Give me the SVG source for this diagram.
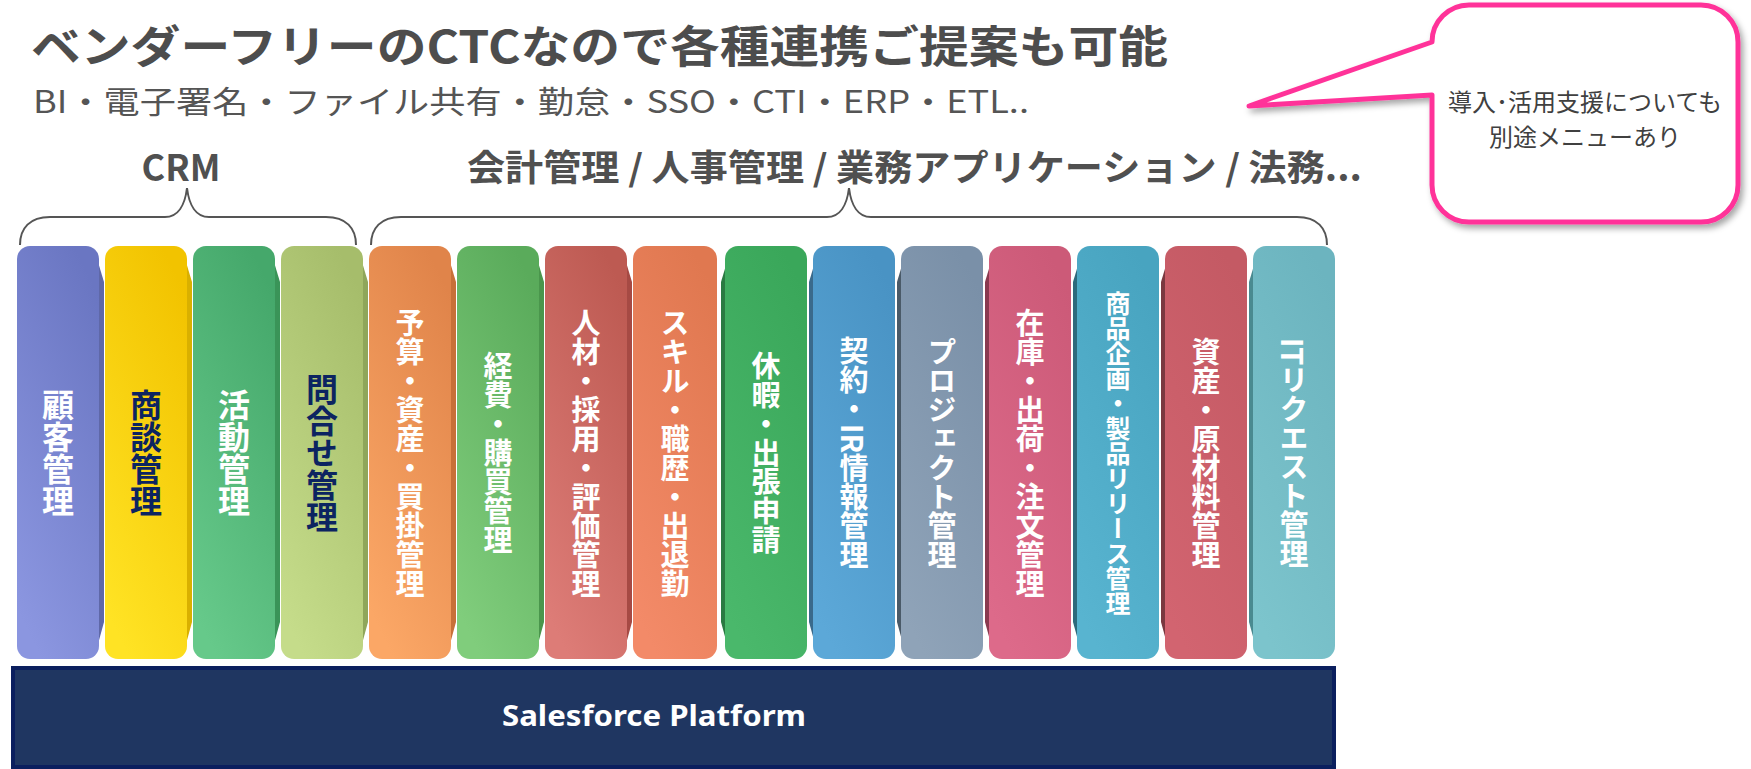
<svg xmlns="http://www.w3.org/2000/svg" width="1751" height="769" viewBox="0 0 1751 769">
<style>
.ttl{font-family:"Noto Sans CJK JP","Noto Sans",sans-serif;font-weight:700;fill:#4d4d4d}
.sub{font-family:"Noto Sans CJK JP","Noto Sans",sans-serif;font-weight:400;fill:#555555}
.hd{font-family:"Noto Sans CJK JP","Noto Sans",sans-serif;font-weight:700;fill:#505050}
.v{font-family:"Noto Sans CJK JP",sans-serif;font-weight:700;fill:#ffffff;writing-mode:vertical-rl;text-anchor:middle}
.dk{fill:#0c2461}
.brace{fill:none;stroke:#555555;stroke-width:2}
.call{font-family:"Noto Sans CJK JP",sans-serif;font-weight:400;fill:#404040;font-size:24px;text-anchor:middle}
</style>
<defs>
<filter id="sh" x="-10%" y="-10%" width="130%" height="130%">
<feDropShadow dx="3" dy="4" stdDeviation="3" flood-color="#000" flood-opacity="0.35"/>
</filter>
<linearGradient id="g1" x1="0.7" y1="0" x2="0.3" y2="1"><stop offset="0" stop-color="#6a76c2"/><stop offset="1" stop-color="#8b96e0"/></linearGradient>
<linearGradient id="g2" x1="0.7" y1="0" x2="0.3" y2="1"><stop offset="0" stop-color="#f2c300"/><stop offset="1" stop-color="#ffe324"/></linearGradient>
<linearGradient id="g3" x1="0.7" y1="0" x2="0.3" y2="1"><stop offset="0" stop-color="#45a86b"/><stop offset="1" stop-color="#66c98a"/></linearGradient>
<linearGradient id="g4" x1="0.7" y1="0" x2="0.3" y2="1"><stop offset="0" stop-color="#a6bd6b"/><stop offset="1" stop-color="#c5dc8a"/></linearGradient>
<linearGradient id="g5" x1="0.7" y1="0" x2="0.3" y2="1"><stop offset="0" stop-color="#e0844a"/><stop offset="1" stop-color="#fba766"/></linearGradient>
<linearGradient id="g6" x1="0.7" y1="0" x2="0.3" y2="1"><stop offset="0" stop-color="#5aab5b"/><stop offset="1" stop-color="#80cd7c"/></linearGradient>
<linearGradient id="g7" x1="0.7" y1="0" x2="0.3" y2="1"><stop offset="0" stop-color="#bd5a52"/><stop offset="1" stop-color="#dd7c77"/></linearGradient>
<linearGradient id="g8" x1="0.7" y1="0" x2="0.3" y2="1"><stop offset="0" stop-color="#e07850"/><stop offset="1" stop-color="#f38a68"/></linearGradient>
<linearGradient id="g9" x1="0.7" y1="0" x2="0.3" y2="1"><stop offset="0" stop-color="#3aa75a"/><stop offset="1" stop-color="#4ab86b"/></linearGradient>
<linearGradient id="g10" x1="0.7" y1="0" x2="0.3" y2="1"><stop offset="0" stop-color="#4993c4"/><stop offset="1" stop-color="#5ca8d8"/></linearGradient>
<linearGradient id="g11" x1="0.7" y1="0" x2="0.3" y2="1"><stop offset="0" stop-color="#7a90a8"/><stop offset="1" stop-color="#8fa3b8"/></linearGradient>
<linearGradient id="g12" x1="0.7" y1="0" x2="0.3" y2="1"><stop offset="0" stop-color="#cc5a78"/><stop offset="1" stop-color="#dd6a8a"/></linearGradient>
<linearGradient id="g13" x1="0.7" y1="0" x2="0.3" y2="1"><stop offset="0" stop-color="#48a4c0"/><stop offset="1" stop-color="#58b4d0"/></linearGradient>
<linearGradient id="g14" x1="0.7" y1="0" x2="0.3" y2="1"><stop offset="0" stop-color="#c45a64"/><stop offset="1" stop-color="#d26470"/></linearGradient>
<linearGradient id="g15" x1="0.7" y1="0" x2="0.3" y2="1"><stop offset="0" stop-color="#6cb4bf"/><stop offset="1" stop-color="#7cc4cc"/></linearGradient>
</defs>
<rect width="1751" height="769" fill="#ffffff"/>

<g id="title">
<text class="ttl" x="31" y="63" font-size="44" textLength="1137" lengthAdjust="spacingAndGlyphs">ベンダーフリーのCTCなので各種連携ご提案も可能</text>
<text class="sub" x="33" y="113" font-size="31" textLength="996" lengthAdjust="spacingAndGlyphs">BI・電子署名・ファイル共有・勤怠・SSO・CTI・ERP・ETL..</text>
</g>

<g id="label-crm"><text class="hd" x="181" y="181" font-size="36" text-anchor="middle">CRM</text></g>
<g id="label-apps"><text class="hd" x="467" y="181" font-size="36" textLength="895" lengthAdjust="spacingAndGlyphs">会計管理 / 人事管理 / 業務アプリケーション / 法務...</text></g>

<g id="connectors">
<path class="brace" d="M20,245 C20,228 30,217 50,217 L165,217 C178,217 185,205 187,188 C189,205 196,217 209,217 L326,217 C346,217 356,228 356,245"/>
<path class="brace" d="M371,245 C371,228 381,217 401,217 L827,217 C840,217 847,205 849,188 C851,205 858,217 871,217 L1297,217 C1317,217 1327,228 1327,245"/>
</g>

<g id="callout">
<path d="M1469,5 L1701,5 A37,37 0 0 1 1738,42 L1738,185 A37,37 0 0 1 1701,222 L1469,222 A37,37 0 0 1 1432,185 L1432,95 L1249,106 L1432,42 A37,37 0 0 1 1469,5 Z" fill="#ffffff" stroke="#ff3399" stroke-width="5" stroke-linejoin="round" filter="url(#sh)"/>
<text class="call" x="1585" y="111">導入･活用支援についても</text>
<text class="call" x="1585" y="146">別途メニューあり</text>
</g>

<g id="col-1"><path d="M95,252 L104,282 L104,622 L95,655 Z" fill="#5f68a8"/><rect x="17" y="246" width="82" height="413" rx="13" fill="url(#g1)"/><text class="v" x="58" y="453" font-size="32">顧客管理</text></g>
<g id="col-2"><path d="M183,252 L192,282 L192,622 L183,655 Z" fill="#d9b000"/><rect x="105" y="246" width="82" height="413" rx="13" fill="url(#g2)"/><text class="v dk" x="146" y="453" font-size="32">商談管理</text></g>
<g id="col-3"><path d="M271,252 L280,282 L280,622 L271,655 Z" fill="#3a9458"/><rect x="193" y="246" width="82" height="413" rx="13" fill="url(#g3)"/><text class="v" x="234" y="453" font-size="32">活動管理</text></g>
<g id="col-4"><path d="M359,252 L368,282 L368,622 L359,655 Z" fill="#8fa65a"/><rect x="281" y="246" width="82" height="413" rx="13" fill="url(#g4)"/><text class="v dk" x="322" y="453" font-size="32">問合せ管理</text></g>
<g id="col-5"><path d="M447,252 L456,282 L456,622 L447,655 Z" fill="#c87038"/><rect x="369" y="246" width="82" height="413" rx="13" fill="url(#g5)"/><text class="v" x="410" y="453" font-size="29">予算・資産・買掛管理</text></g>
<g id="col-6"><path d="M535,252 L544,282 L544,622 L535,655 Z" fill="#4a964c"/><rect x="457" y="246" width="82" height="413" rx="13" fill="url(#g6)"/><text class="v" x="498" y="453" font-size="29">経費・購買管理</text></g>
<g id="col-7"><path d="M623,252 L632,282 L632,622 L623,655 Z" fill="#a64a44"/><rect x="545" y="246" width="82" height="413" rx="13" fill="url(#g7)"/><text class="v" x="586" y="453" font-size="29">人材・採用・評価管理</text></g>
<g id="col-8"><rect x="633" y="246" width="84" height="413" rx="13" fill="url(#g8)"/><text class="v" x="675" y="453" font-size="29">スキル・職歴・出退勤</text></g>
<g id="col-9"><path d="M730,252 L721,282 L721,622 L730,655 Z" fill="#2a7a42"/><rect x="725" y="246" width="82" height="413" rx="13" fill="url(#g9)"/><text class="v" x="766" y="453" font-size="29">休暇・出張申請</text></g>
<g id="col-10"><path d="M818,252 L809,282 L809,622 L818,655 Z" fill="#3a6a8c"/><rect x="813" y="246" width="82" height="413" rx="13" fill="url(#g10)"/><text class="v" x="854" y="453" font-size="29">契約・IR情報管理</text></g>
<g id="col-11"><path d="M906,252 L897,282 L897,622 L906,655 Z" fill="#4a5a68"/><rect x="901" y="246" width="82" height="413" rx="13" fill="url(#g11)"/><text class="v" x="942" y="453" font-size="29">プロジェクト管理</text></g>
<g id="col-12"><path d="M994,252 L985,282 L985,622 L994,655 Z" fill="#8a3a50"/><rect x="989" y="246" width="82" height="413" rx="13" fill="url(#g12)"/><text class="v" x="1030" y="453" font-size="29">在庫・出荷・注文管理</text></g>
<g id="col-13"><path d="M1082,252 L1073,282 L1073,622 L1082,655 Z" fill="#2e6a7c"/><rect x="1077" y="246" width="82" height="413" rx="13" fill="url(#g13)"/><text class="v" x="1118" y="453" font-size="25">商品企画・製品リリース管理</text></g>
<g id="col-14"><path d="M1170,252 L1161,282 L1161,622 L1170,655 Z" fill="#7a3840"/><rect x="1165" y="246" width="82" height="413" rx="13" fill="url(#g14)"/><text class="v" x="1206" y="453" font-size="29">資産・原材料管理</text></g>
<g id="col-15"><path d="M1258,252 L1249,282 L1249,622 L1258,655 Z" fill="#4a8a90"/><rect x="1253" y="246" width="82" height="413" rx="13" fill="url(#g15)"/><text class="v" x="1294" y="453" font-size="29">ITリクエスト管理</text></g>

<g id="platform">
<rect x="13" y="668" width="1321" height="99" fill="#1f3661" stroke="#0b1f5e" stroke-width="4"/>
<text x="654" y="726" font-family="'Noto Sans','Liberation Sans',sans-serif" font-weight="700" font-size="28" fill="#ffffff" text-anchor="middle" textLength="304" lengthAdjust="spacingAndGlyphs">Salesforce Platform</text>
</g>
</svg>
